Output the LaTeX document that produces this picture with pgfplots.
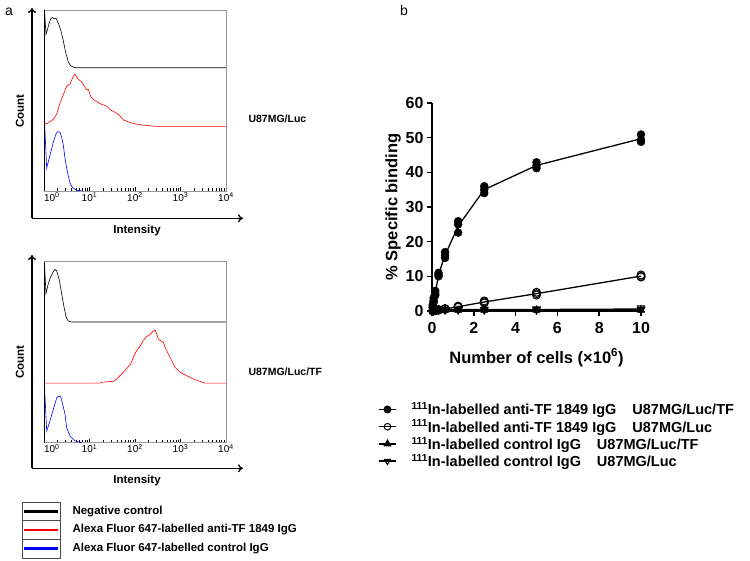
\documentclass[border=0pt]{standalone}
\usepackage{fontspec}
\setmainfont{Liberation Sans}
\usepackage{pgfplots}
\pgfplotsset{compat=1.18}
\usetikzlibrary{arrows.meta}

\begin{document}
\begin{tikzpicture}[x=1pt,y=1pt]
\useasboundingbox (0pt,0pt) rectangle (750pt,560pt);

\pgfplotsset{
 flowaxis/.style={
  scale only axis, width=182pt, height=181pt, anchor=south west,
  xmin=0,xmax=4,ymin=0,ymax=180,
  axis line style={gray!80, line width=0.6pt},
  xtick={0,1,2,3,4},
  xticklabels={\hphantom{10\textsuperscript{0}}10\textsuperscript{0},10\textsuperscript{1},10\textsuperscript{2},10\textsuperscript{3},10\textsuperscript{4}},
  minor xtick={0.301,0.477,0.602,0.699,0.778,0.845,0.903,0.954,
               1.301,1.477,1.602,1.699,1.778,1.845,1.903,1.954,
               2.301,2.477,2.602,2.699,2.778,2.845,2.903,2.954,
               3.301,3.477,3.602,3.699,3.778,3.845,3.903,3.954},
  ytick=\empty,
  tick align=inside, xtick pos=left,
  major tick length=4pt, minor tick length=2.5pt,
  every tick/.style={black, line width=0.5pt},
  xticklabel style={font=\fontsize{10}{11}\selectfont, inner sep=1.5pt},
  every axis plot/.append style={line width=0.6pt, no marks},
  extra description/.code={\draw[black,line width=0.8pt] (axis description cs:0,0)--(axis description cs:0,1);},
 }
}

% ---------- panel a, top ----------
\begin{axis}[flowaxis, at={(44pt,369pt)}]
\addplot[black] coordinates {(0.007,122.6)(0.010,180)(0.044,155.7)(0.095,163.8)(0.147,171.2)(0.183,172.5)(0.220,171.2)(0.264,171.9)(0.315,167.0)(0.366,160.5)(0.425,149.2)(0.476,137.8)(0.535,128.1)(0.593,124.2)(0.681,122.6)(4,122.6)};
\addplot[red] coordinates {(0.007,68.1)(0.059,66.8)(0.132,68.8)(0.205,71.4)(0.278,76.2)(0.352,87.6)(0.425,95.7)(0.498,104.4)(0.571,106.4)(0.608,110.3)(0.645,114.2)(0.681,116.1)(0.718,113.5)(0.755,110.9)(0.828,108.6)(0.901,103.1)(0.938,100.5)(0.974,101.2)(1.026,94.1)(1.084,90.8)(1.158,89.2)(1.231,86.9)(1.377,84.3)(1.451,81.1)(1.597,77.2)(1.670,74.6)(1.744,70.7)(1.890,68.1)(2.037,66.5)(2.183,65.5)(2.476,64.2)(4,64.2)};
\addplot[blue] coordinates {(0.007,0)(0.010,71.4)(0.059,22.7)(0.132,35.7)(0.205,48.6)(0.264,56.8)(0.300,59.0)(0.352,58.4)(0.388,53.5)(0.425,45.4)(0.462,32.4)(0.498,22.7)(0.535,14.6)(0.571,8.1)(0.630,3.2)(0.718,0.6)(0.864,0)};
\end{axis}

% ---------- panel a, bottom ----------
\begin{axis}[flowaxis, at={(44pt,117.3pt)}]
\addplot[black] coordinates {(0.007,120)(0.010,178.3)(0.044,148.3)(0.095,158.3)(0.147,165)(0.205,170)(0.242,172.3)(0.278,171)(0.337,161.7)(0.388,148.3)(0.440,135)(0.484,125)(0.535,121)(0.608,120)(4,120)};
\addplot[red] coordinates {(0.007,59.3)(1.231,59.3)(1.304,60.3)(1.524,61)(1.597,63.3)(1.670,66.7)(1.744,70)(1.853,75.7)(1.905,78.3)(1.963,85)(2.037,91.7)(2.110,95.7)(2.183,101.7)(2.256,105.7)(2.330,107.7)(2.403,111)(2.440,112.3)(2.476,108.3)(2.513,103.3)(2.549,101.7)(2.623,100)(2.659,95)(2.733,88.3)(2.806,81.7)(2.879,75)(2.989,70)(3.136,66.7)(3.282,63.3)(3.429,61)(3.538,59.3)(4,59.3)};
\addplot[blue] coordinates {(0.007,0)(0.010,56.7)(0.059,11.7)(0.132,21.7)(0.205,33.3)(0.278,44.3)(0.315,46.3)(0.366,45.7)(0.410,38.3)(0.462,28.3)(0.498,15)(0.571,6.7)(0.681,1.7)(0.828,0)};
\end{axis}

% outer arrows of panel a
\draw[line width=1.3pt, -{To[length=5pt,width=8pt]}] (32pt,341.7pt) -- (32pt,552pt);
\draw[line width=1.3pt, -{To[length=5pt,width=8pt]}] (32pt,341.7pt) -- (243pt,341.7pt);
\draw[line width=1.3pt, -{To[length=5pt,width=8pt]}] (32pt,91.7pt) -- (32pt,305pt);
\draw[line width=1.3pt, -{To[length=5pt,width=8pt]}] (32pt,91.7pt) -- (243pt,91.7pt);

\node[rotate=90, font=\bfseries\fontsize{11.5}{12}\selectfont] at (20pt,449pt) {Count};
\node[rotate=90, font=\bfseries\fontsize{11.5}{12}\selectfont] at (20pt,198pt) {Count};
\node[font=\bfseries\fontsize{11.5}{12}\selectfont] at (137pt,329pt) {Intensity};
\node[font=\bfseries\fontsize{11.5}{12}\selectfont] at (137pt,79pt) {Intensity};
\node[anchor=west, font=\bfseries\fontsize{10.5}{12}\selectfont] at (245pt,441pt) {U87MG/Luc};
\node[anchor=west, font=\bfseries\fontsize{10.5}{12}\selectfont] at (245pt,188pt) {U87MG/Luc/TF};
\node[font=\fontsize{14}{16}\selectfont] at (9pt,548pt) {a};
\node[font=\fontsize{14}{16}\selectfont] at (404pt,549pt) {b};

% legend of panel a
\draw[line width=0.6pt, black!70] (22pt,58pt) rectangle (60pt,2pt);
\draw[line width=0.6pt, black!70] (22pt,39.5pt) -- (60pt,39.5pt);
\draw[line width=0.6pt, black!70] (22pt,21pt) -- (60pt,21pt);
\draw[line width=2.2pt, black] (24pt,48.5pt) -- (58pt,48.5pt);
\draw[line width=2.2pt, red] (24pt,30pt) -- (58pt,30pt);
\draw[line width=2.2pt, blue] (24pt,11.5pt) -- (58pt,11.5pt);
\node[anchor=west, font=\bfseries\fontsize{11.5}{12}\selectfont] at (69pt,48.5pt) {Negative control};
\node[anchor=west, font=\bfseries\fontsize{11.5}{12}\selectfont] at (69pt,30pt) {Alexa Fluor 647-labelled anti-TF 1849 IgG};
\node[anchor=west, font=\bfseries\fontsize{11.5}{12}\selectfont] at (69pt,11.5pt) {Alexa Fluor 647-labelled control IgG};

% ---------- panel b ----------
\begin{axis}[at={(432pt,249pt)}, anchor=south west, scale only axis, width=209pt, height=208pt,
  xmin=0, xmax=10, ymin=0, ymax=60,
  axis lines=left, axis line style={line width=1.6pt, -},
  xtick={0,2,4,6,8,10}, ytick={0,10,20,30,40,50,60},
  tick align=outside, major tick length=5pt,
  every tick/.style={black, line width=1.6pt},
  ticklabel style={font=\bfseries\fontsize{16}{17}\selectfont},
  xticklabel style={yshift=-3pt},
  /pgf/number format/assume math mode=true,
  xlabel={Number of cells (×10\textsuperscript{6})},
  ylabel={\% Specific binding},
  label style={font=\bfseries\fontsize{16.5}{18}\selectfont},
  xlabel style={yshift=-8pt},
  ylabel style={yshift=-2pt},
  clip=false,
  legend style={at={(-0.258,-0.43)}, anchor=north west, draw=none, fill=none,
     font=\bfseries\fontsize{14.5}{16}\selectfont, row sep=-0.5pt, inner sep=0pt},
  legend cell align=left,
]
\addlegendimage{black, line width=1.3pt, mark=*, mark size=3.3pt}
\addlegendentry{\hspace*{13pt}\textsuperscript{111}In-labelled anti-TF 1849 IgG\hspace{1.1em}U87MG/Luc/TF}
\addlegendimage{black, line width=1.3pt, mark=o, mark size=3.3pt, mark options={fill=white, line width=1pt}}
\addlegendentry{\hspace*{13pt}\textsuperscript{111}In-labelled anti-TF 1849 IgG\hspace{1.1em}U87MG/Luc}
\addlegendimage{black, line width=1.3pt, mark=triangle*, mark size=3.5pt}
\addlegendentry{\hspace*{13pt}\textsuperscript{111}In-labelled control IgG\hspace{1.1em}U87MG/Luc/TF}
\addlegendimage{black, line width=1.3pt, mark=triangle, mark size=3.5pt, mark options={rotate=180, fill=white, line width=1pt}}
\addlegendentry{\hspace*{13pt}\textsuperscript{111}In-labelled control IgG\hspace{1.1em}U87MG/Luc}

% series 4: control IgG, U87MG/Luc (open down triangles)
\addplot[black, line width=1.3pt, forget plot] coordinates {(0.039,0.35)(0.078,0.35)(0.156,0.35)(0.3125,0.35)(0.625,0.37)(1.25,0.4)(2.5,0.4)(5,0.43)(10,0.57)};
\addplot[only marks, mark=triangle, mark size=4pt, mark options={rotate=180, fill=white, line width=1pt}, forget plot] coordinates {
(0.039,0.4)(0.039,0.3)(0.039,0.3)(0.078,0.4)(0.078,0.3)(0.078,0.3)(0.156,0.4)(0.156,0.3)(0.156,0.3)(0.3125,0.4)(0.3125,0.3)(0.3125,0.3)(0.625,0.4)(0.625,0.4)(0.625,0.3)(1.25,0.5)(1.25,0.4)(1.25,0.3)(2.5,0.5)(2.5,0.4)(2.5,0.3)(5,0.6)(5,0.4)(5,0.3)(10,0.9)(10,0.5)(10,0.3)};
% series 3: control IgG, U87MG/Luc/TF (filled up triangles)
\addplot[black, line width=1.3pt, forget plot] coordinates {(0.039,0.3)(0.078,0.3)(0.156,0.3)(0.3125,0.3)(0.625,0.3)(1.25,0.3)(2.5,0.3)(5,0.3)(10,0.3)};
\addplot[only marks, mark=triangle*, mark size=4pt, forget plot] coordinates {
(0.039,0.4)(0.039,0.3)(0.039,0.2)(0.078,0.4)(0.078,0.3)(0.078,0.2)(0.156,0.4)(0.156,0.3)(0.156,0.2)(0.3125,0.4)(0.3125,0.3)(0.3125,0.2)(0.625,0.4)(0.625,0.3)(0.625,0.2)(1.25,0.4)(1.25,0.3)(1.25,0.2)(2.5,0.4)(2.5,0.3)(2.5,0.2)(5,0.4)(5,0.3)(5,0.2)(10,0.4)(10,0.3)(10,0.2)};
% series 2: anti-TF, U87MG/Luc (open circles)
\addplot[black, line width=1.3pt, forget plot] coordinates {(0.039,0.03)(0.078,0.1)(0.156,0.17)(0.3125,0.33)(0.625,0.6)(1.25,1.23)(2.5,2.6)(5,5.0)(10,10.07)};
\addplot[only marks, mark=o, mark size=4pt, mark options={fill=white, line width=1pt}, forget plot] coordinates {
(0.039,0.1)(0.039,0.0)(0.039,0.0)(0.078,0.1)(0.078,0.1)(0.078,0.1)(0.156,0.2)(0.156,0.2)(0.156,0.1)(0.3125,0.4)(0.3125,0.3)(0.3125,0.3)(0.625,0.7)(0.625,0.6)(0.625,0.5)(1.25,1.4)(1.25,1.2)(1.25,1.1)(2.5,2.9)(2.5,2.6)(2.5,2.3)(5,5.4)(5,5.0)(5,4.6)(10,10.4)(10,10.0)(10,9.8)};
% series 1: anti-TF, U87MG/Luc/TF (filled circles)
\addplot[black, line width=1.3pt, forget plot] coordinates {(0.039,1.5)(0.078,3.1)(0.156,5.1)(0.3125,10.5)(0.625,16.1)(1.25,24.5)(2.5,35.0)(5,42.0)(10,49.7)};
\addplot[only marks, mark=*, mark size=4pt, forget plot] coordinates {
(0.039,1.8)(0.039,1.5)(0.039,1.2)(0.078,3.8)(0.078,3.0)(0.078,2.5)(0.156,5.8)(0.156,5.0)(0.156,4.5)(0.3125,11.0)(0.3125,10.5)(0.3125,10.0)(0.625,17.0)(0.625,16.0)(0.625,15.3)(1.25,25.9)(1.25,25.0)(1.25,22.6)(2.5,36.0)(2.5,35.0)(2.5,34.0)(5,42.9)(5,42.0)(5,41.2)(10,50.9)(10,49.3)(10,48.8)};
\end{axis}
\end{tikzpicture}
\end{document}
